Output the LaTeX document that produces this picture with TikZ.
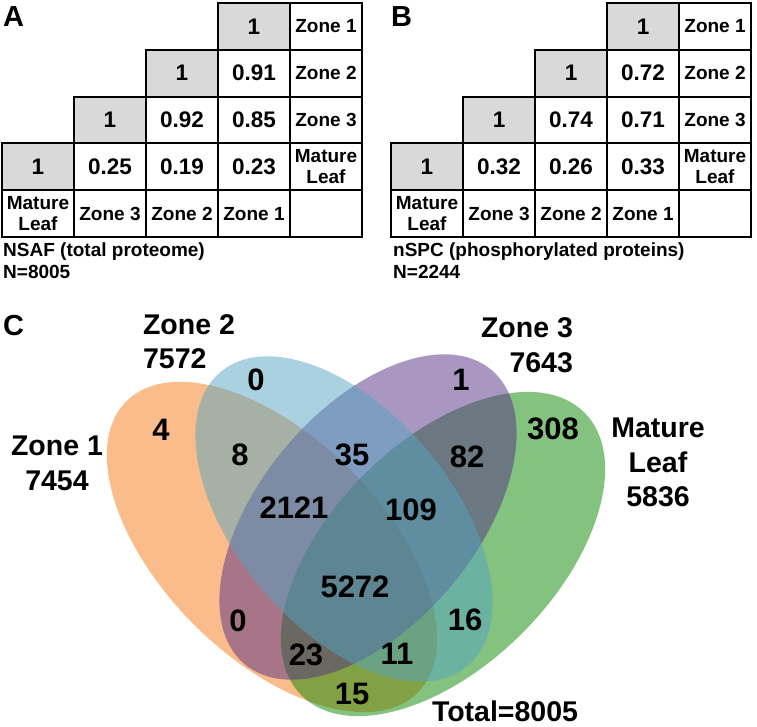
\documentclass[tikz,border=0pt]{standalone}
\usepackage{fontspec}
\setmainfont{Liberation Sans}
\usetikzlibrary{positioning}
\definecolor{zoneone}{RGB}{244,122,22}
\definecolor{zonetwo}{RGB}{84,164,194}
\definecolor{zonethree}{RGB}{86,48,132}
\definecolor{matureleaf}{RGB}{10,134,0}
\tikzstyle{every path}=[line cap=round,line join=round]
\tikzstyle{cell}=[draw,line width=2pt,line join=miter,minimum width=\cellw,minimum height=\cellh,inner sep=0pt,outer sep=0pt,align=center]
\tikzstyle{namecell}=[cell,font=\fontsize{19}{20.5}\selectfont\bfseries]
\tikzstyle{valcell}=[cell,font=\fontsize{22.5}{24}\selectfont\bfseries]
\tikzstyle{onecell}=[valcell,fill=black!15]
\tikzstyle{panel}=[inner sep=0pt,font=\fontsize{29}{30}\selectfont\bfseries]
\tikzstyle{capt}=[inner sep=0pt,font=\fontsize{19}{21}\selectfont\bfseries]
\tikzstyle{setlabel}=[inner sep=0pt,font=\fontsize{28.5}{34.5}\selectfont\bfseries]
\tikzstyle{count}=[inner sep=0pt,font=\fontsize{31}{32}\selectfont\bfseries]
\tikzstyle{venn}=[fill opacity=0.5]

\begin{document}
\begin{tikzpicture}[x=1pt,y=-1pt]
%Correlation tables and Venn diagram
	\newcommand\cellw{72pt} %width of table cells
	\newcommand\cellh{46.8pt} %height of table cells
	\useasboundingbox (0,0) rectangle (757,727);
	%TABLE A
	\node[panel,anchor=base west] (A) at (3,27) {A};
	\node[onecell,anchor=north west] (A03) at (218,3) {1}; %% A03 is the top diagonal cell
	\node[namecell,right=0pt of A03] (A04) {Zone 1};
	\node[valcell,below=0pt of A03] (A13) {0.91};
	\node[onecell,left=0pt of A13] (A12) {1};
	\node[namecell,below=0pt of A04] (A14) {Zone 2};
	\node[valcell,below=0pt of A13] (A23) {0.85};
	\node[valcell,below=0pt of A12] (A22) {0.92};
	\node[onecell,left=0pt of A22] (A21) {1};
	\node[namecell,below=0pt of A14] (A24) {Zone 3};
	\node[valcell,below=0pt of A23] (A33) {0.23};
	\node[valcell,below=0pt of A22] (A32) {0.19};
	\node[valcell,below=0pt of A21] (A31) {0.25};
	\node[onecell,left=0pt of A31] (A30) {1};
	\node[namecell,below=0pt of A24] (A34) {Mature\\Leaf};
	\node[namecell,below=0pt of A30] (A40) {Mature\\Leaf}; %% bottom row holds the column names
	\node[namecell,below=0pt of A31] (A41) {Zone 3};
	\node[namecell,below=0pt of A32] (A42) {Zone 2};
	\node[namecell,below=0pt of A33] (A43) {Zone 1};
	\node[namecell,below=0pt of A34] (A44) {};
	\node[capt,anchor=base west] (Acap) at (3,257) {NSAF (total proteome)};
	\node[capt,anchor=base west] (AN) at (3,278) {N=8005};
	%TABLE B
	\node[panel,anchor=base west] (B) at (391,27) {B};
	\node[onecell,anchor=north west] (B03) at (607,3) {1}; %% B03 is the top diagonal cell
	\node[namecell,right=0pt of B03] (B04) {Zone 1};
	\node[valcell,below=0pt of B03] (B13) {0.72};
	\node[onecell,left=0pt of B13] (B12) {1};
	\node[namecell,below=0pt of B04] (B14) {Zone 2};
	\node[valcell,below=0pt of B13] (B23) {0.71};
	\node[valcell,below=0pt of B12] (B22) {0.74};
	\node[onecell,left=0pt of B22] (B21) {1};
	\node[namecell,below=0pt of B14] (B24) {Zone 3};
	\node[valcell,below=0pt of B23] (B33) {0.33};
	\node[valcell,below=0pt of B22] (B32) {0.26};
	\node[valcell,below=0pt of B21] (B31) {0.32};
	\node[onecell,left=0pt of B31] (B30) {1};
	\node[namecell,below=0pt of B24] (B34) {Mature\\Leaf};
	\node[namecell,below=0pt of B30] (B40) {Mature\\Leaf};
	\node[namecell,below=0pt of B31] (B41) {Zone 3};
	\node[namecell,below=0pt of B32] (B42) {Zone 2};
	\node[namecell,below=0pt of B33] (B43) {Zone 1};
	\node[namecell,below=0pt of B34] (B44) {};
	\node[capt,anchor=base west] (Bcap) at (393,257) {nSPC (phosphorylated proteins)};
	\node[capt,anchor=base west] (BN) at (393,278) {N=2244};
	%VENN DIAGRAM
	\node[panel,anchor=base west] (C) at (3,335) {C};
	\fill[zoneone,venn,rotate around={-45:(272,547)}] (272,547) ellipse [x radius=206pt,y radius=110pt]; %% Zone 1
	\fill[matureleaf,venn,rotate around={45:(443,554)}] (443,554) ellipse [x radius=200pt,y radius=112pt]; %% Mature Leaf
	\fill[zonethree,venn,rotate around={50:(368,517)}] (368,517) ellipse [x radius=192pt,y radius=108pt]; %% Zone 3
	\fill[zonetwo,venn,rotate around={-50:(344,519)}] (344,519) ellipse [x radius=192pt,y radius=108pt]; %% Zone 2
	%set names
	\node[setlabel,align=center] (Z1lab) at (57,463.5) {Zone 1\\7454};
	\node[setlabel,align=left] (Z2lab) at (189,341.5) {Zone 2\\7572};
	\node[setlabel,align=right] (Z3lab) at (527,345) {Zone 3\\7643};
	\node[setlabel,align=center] (MLlab) at (658,462.5) {Mature\\Leaf\\5836};
	\node[setlabel,anchor=base] (total) at (505,721) {Total=8005};
	%counts
	\node[count] (z1) at (161,430) {4};
	\node[count] (z2) at (256,380) {0};
	\node[count] (z3) at (461,380) {1};
	\node[count] (ml) at (553,429) {308};
	\node[count] (z12) at (240,455) {8};
	\node[count] (z23) at (352,455) {35};
	\node[count] (z3ml) at (467,457) {82};
	\node[count] (z123) at (294,508) {2121};
	\node[count] (z23ml) at (411,510) {109};
	\node[count] (all) at (355,587) {5272};
	\node[count] (z13) at (238,621) {0};
	\node[count] (z2ml) at (465,620) {16};
	\node[count] (z13ml) at (306,655) {23};
	\node[count] (z12ml) at (397,654) {11};
	\node[count] (z1ml) at (352,694) {15};
\end{tikzpicture}
\end{document}
